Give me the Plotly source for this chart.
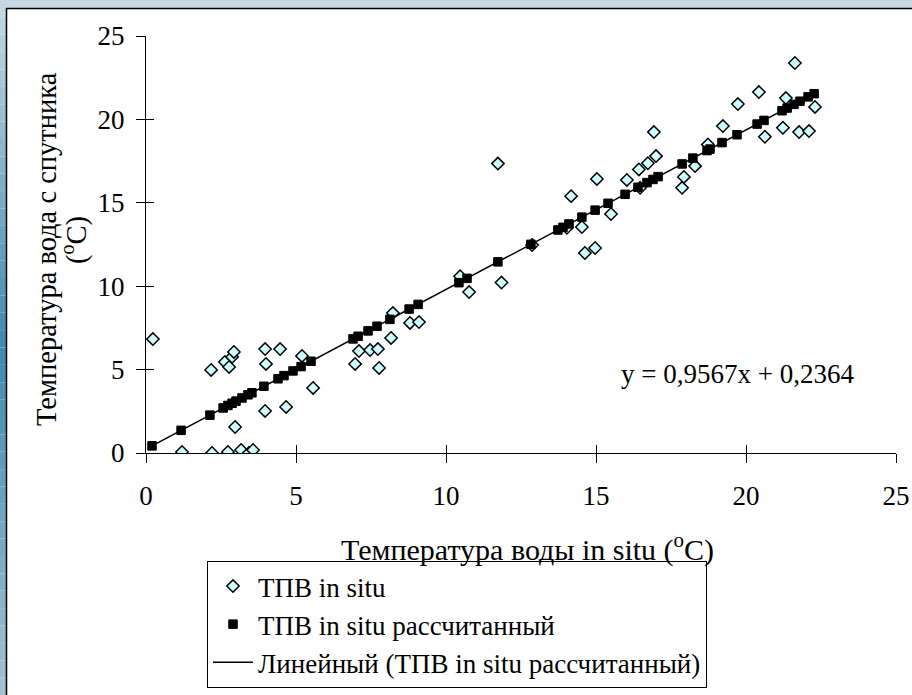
import numpy as np
import plotly.graph_objects as go

# ---- data ----
insitu_x = [0.23, 1.2, 2.17, 2.2, 2.63, 2.73, 2.77, 2.87, 2.93, 2.97, 3.17, 3.43, 3.57,
            3.97, 4.0, 3.97, 4.47, 4.67, 5.2, 5.57, 6.97, 7.1, 7.47, 7.73, 7.77, 8.17,
            8.23, 8.8, 9.1, 10.47, 10.77, 11.73, 11.85, 12.87, 14.03, 14.17, 14.53,
            14.63, 14.97, 15.03, 15.5, 16.03, 16.43, 16.47, 16.73, 16.93, 17.0, 17.87,
            17.93, 18.3, 18.73, 19.23, 19.73, 20.43, 20.63, 21.23, 21.33, 21.63, 21.77,
            22.1, 22.3]
insitu_y = [6.83, 0.06, 4.98, 0.0, 5.46, 0.06, 5.16, 5.76, 6.06, 1.56, 0.18, 0.0, 0.18,
            6.23, 5.34, 2.52, 6.23, 2.76, 5.82, 3.9, 5.34, 6.11, 6.17, 6.23, 5.1, 6.9,
            8.39, 7.8, 7.85, 10.6, 9.65, 17.35, 10.22, 12.47, 13.5, 15.4, 13.55,
            11.99, 12.29, 16.43, 14.33, 16.37, 17.0, 15.9, 17.37, 19.24, 17.8, 15.9,
            16.55, 17.2, 18.5, 19.6, 20.92, 21.64, 18.96, 19.5, 21.28, 23.38, 19.24,
            19.3, 20.75]

calc_x = [0.2, 1.17, 2.13, 2.57, 2.73, 2.87, 3.0, 3.2, 3.4, 3.53, 3.93, 4.4, 4.6, 4.9,
          5.17, 5.5, 6.9, 7.07, 7.4, 7.7, 8.13, 8.77, 9.07, 10.43, 10.7, 11.73, 12.83,
          13.73, 13.9, 14.1, 14.53, 14.97, 15.4, 15.97, 16.4, 16.7, 16.9, 17.07, 17.87,
          18.23, 18.7, 18.8, 19.2, 19.7, 20.37, 20.6, 21.2, 21.37, 21.6, 21.8, 22.07, 22.27]
calc_y = [0.43, 1.36, 2.27, 2.70, 2.85, 2.98, 3.11, 3.30, 3.49, 3.61, 4.00, 4.45, 4.64, 4.92,
          5.18, 5.50, 6.84, 7.00, 7.32, 7.60, 8.01, 8.63, 8.91, 10.21, 10.47, 11.46, 12.51,
          13.37, 13.53, 13.73, 14.14, 14.56, 14.97, 15.51, 15.93, 16.21, 16.40, 16.57, 17.33,
          17.68, 18.13, 18.22, 18.61, 19.08, 19.72, 19.94, 20.52, 20.68, 20.90, 21.09, 21.35, 21.54]

x_ticks = [0, 5, 10, 15, 20, 25]
y_ticks = [0, 5, 10, 15, 20, 25]

equation_text = "y = 0,9567x + 0,2364"
name_insitu = "ТПВ in situ"
name_calc = "ТПВ in situ рассчитанный"
name_trend = "Линейный (ТПВ in situ рассчитанный)"
x_title = "Температура воды in situ (<sup>o</sup>C)"
y_title_1 = "Температура вода с спутника"
y_title_2 = "(<sup>o</sup>C)"

FONT = "Liberation Serif, Times New Roman, serif"
FS_TICK = 27
FS_XTITLE = 30
FS_YTITLE = 28.5
FS_LEG = 27
W, H = 912, 695

# trendline from the calculated series
slope, intercept = np.polyfit(calc_x, calc_y, 1)
tx = np.array([min(calc_x), max(calc_x)])
ty = slope * tx + intercept

fig = go.Figure()
fig.add_trace(go.Scatter(x=insitu_x, y=insitu_y, mode="markers", name=name_insitu,
                         marker=dict(symbol="diamond", size=9.5, color="#ccffff",
                                     line=dict(color="black", width=1.5))))
fig.add_trace(go.Scatter(x=calc_x, y=calc_y, mode="markers", name=name_calc,
                         marker=dict(symbol="square", size=8.5, color="black",
                                     line=dict(color="black", width=1))))
fig.add_trace(go.Scatter(x=tx, y=ty, mode="lines", name=name_trend,
                         line=dict(color="black", width=1.5)))

xd = [146 / W, 896 / W]
yd = [1 - 453 / H, 1 - 36 / H]

axis_common = dict(showgrid=False, zeroline=False, showline=True, linecolor="black",
                   linewidth=1.2, tickcolor="black", tickwidth=1.2, ticklen=9,
                   automargin=False,
                   tickfont=dict(family=FONT, size=FS_TICK, color="black"))

fig.update_layout(
    width=W, height=H, margin=dict(l=0, r=0, t=0, b=0, pad=0), autosize=False,
    paper_bgcolor="white", plot_bgcolor="rgba(0,0,0,0)",
    font=dict(family=FONT, color="black"),
    xaxis=dict(domain=xd, range=[0, 25], tickvals=x_ticks, ticks="outside",
               anchor="y", ticklabelstandoff=9, **axis_common),
    yaxis=dict(domain=yd, range=[0, 25], tickvals=y_ticks, ticks="outside",
               anchor="x", ticklabelstandoff=6, **axis_common),
    xaxis2=dict(domain=xd, range=[0, 25], tickvals=x_ticks, ticks="inside", ticklen=8,
                tickcolor="black", tickwidth=1.2, showticklabels=False, showgrid=False,
                zeroline=False, showline=False, overlaying="x", anchor="y", side="bottom"),
    yaxis2=dict(domain=yd, range=[0, 25], tickvals=y_ticks, ticks="inside", ticklen=8,
                tickcolor="black", tickwidth=1.2, showticklabels=False, showgrid=False,
                zeroline=False, showline=False, overlaying="y", anchor="x", side="left"),
    showlegend=True,
    legend=dict(x=207 / W, y=1 - 561 / H, xanchor="left", yanchor="top",
                bgcolor="white", bordercolor="black", borderwidth=1,
                font=dict(family=FONT, size=FS_LEG, color="black"),
                tracegroupgap=0, itemwidth=40),
)

# invisible trace to activate overlay axes
fig.add_trace(go.Scatter(x=[None], y=[None], xaxis="x2", yaxis="y2", showlegend=False,
                         hoverinfo="skip"))

annotations = [
    dict(x=19.7, y=4.74, xref="x", yref="y", text=equation_text, showarrow=False,
         xanchor="center", yanchor="middle",
         font=dict(family=FONT, size=FS_TICK, color="black")),
    dict(x=527 / W, y=1 - 547 / H, xref="paper", yref="paper", text=x_title,
         showarrow=False, xanchor="center", yanchor="middle",
         font=dict(family=FONT, size=FS_XTITLE, color="black")),
    dict(x=46 / W, y=1 - 249 / H, xref="paper", yref="paper", textangle=-90,
         text=y_title_1, showarrow=False, xanchor="center", yanchor="middle",
         font=dict(family=FONT, size=FS_YTITLE, color="black")),
    dict(x=74 / W, y=1 - 240 / H, xref="paper", yref="paper", textangle=-90,
         text=y_title_2, showarrow=False, xanchor="center", yanchor="middle",
         font=dict(family=FONT, size=FS_YTITLE, color="black")),
]
fig.update_layout(annotations=annotations)

# frame: light top band, gradient left band, black border lines
shapes = [dict(type="rect", xref="paper", yref="paper", x0=0, x1=1, y0=1 - 8 / H, y1=1,
               fillcolor="#c8d9e1", line=dict(width=0), layer="above")]
stops = [(0, (200, 217, 225)), (0.5, (62, 138, 176)), (1, (165, 195, 210))]
n = 40
for i in range(n):
    t = (i + 0.5) / n
    if t <= 0.5:
        a, b, f = stops[0][1], stops[1][1], t / 0.5
    else:
        a, b, f = stops[1][1], stops[2][1], (t - 0.5) / 0.5
    c = tuple(int(a[k] + (b[k] - a[k]) * f) for k in range(3))
    shapes.append(dict(type="rect", xref="paper", yref="paper", x0=0, x1=6 / W,
                       y0=1 - (i + 1) / n, y1=1 - i / n,
                       fillcolor="rgb(%d,%d,%d)" % c, line=dict(width=0), layer="above"))
shapes.append(dict(type="line", xref="paper", yref="paper", x0=6 / W, x1=1,
                   y0=1 - 8.5 / H, y1=1 - 8.5 / H, line=dict(color="black", width=1.5)))
shapes.append(dict(type="line", xref="paper", yref="paper", x0=6.5 / W, x1=6.5 / W,
                   y0=0, y1=1 - 8 / H, line=dict(color="black", width=1.5)))
fig.update_layout(shapes=shapes)

fig.write_html(
    "out.html",
    config={"displayModeBar": False},
    post_script="document.body.style.margin='0';document.body.style.padding='0';"
                "document.body.style.overflow='hidden';"
                "document.documentElement.style.overflow='hidden';",
)
